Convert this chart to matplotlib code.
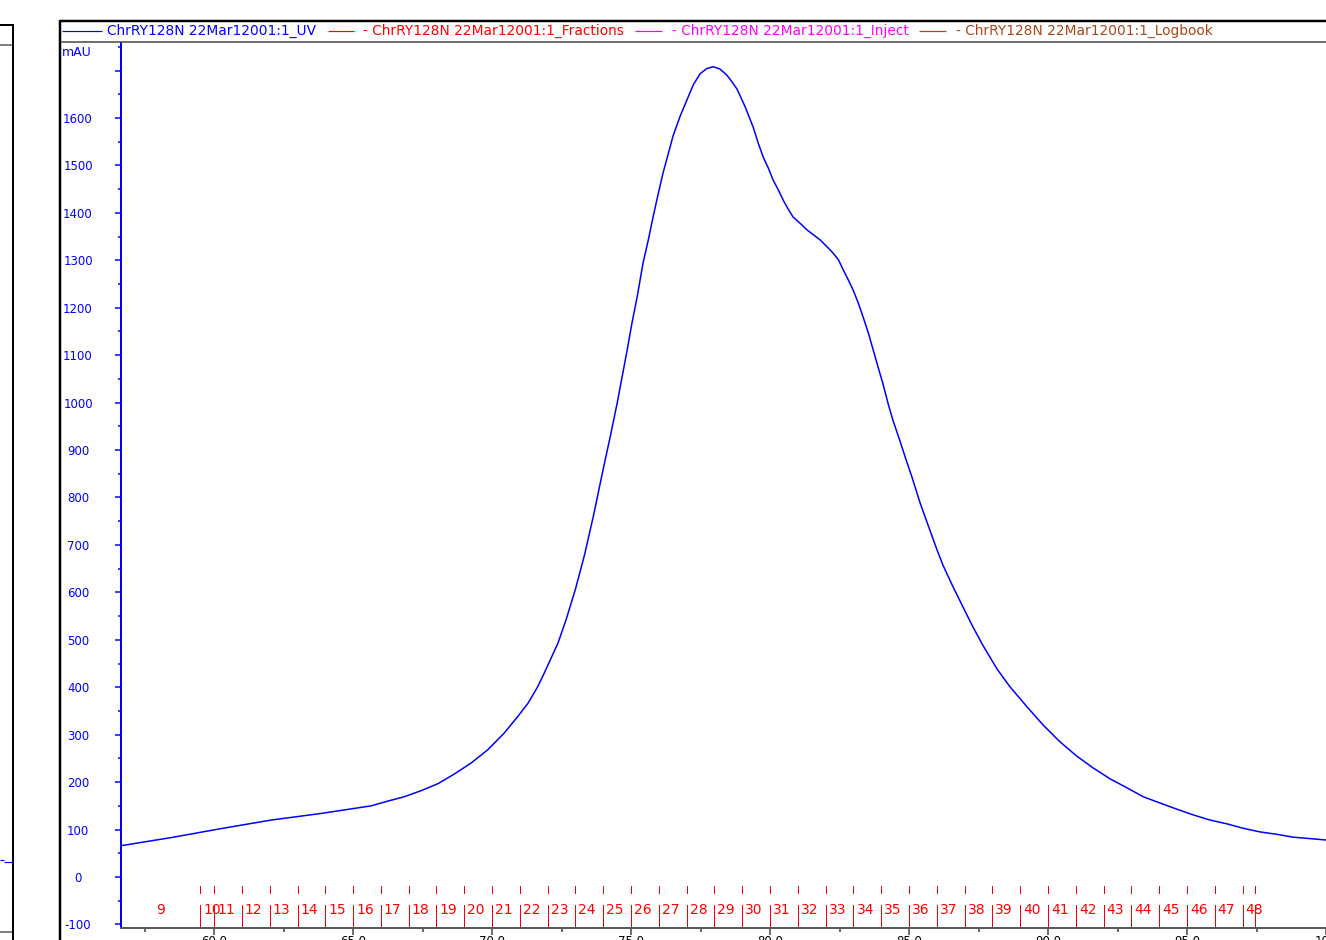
import matplotlib
matplotlib.use('Agg')
import matplotlib.pyplot as plt
from matplotlib.lines import Line2D
from matplotlib.ticker import MultipleLocator

# ---------------- data ----------------
uv_ml = [56.65, 58.45, 60.25, 62.05, 63.85, 65.65, 66.25, 66.83, 67.45, 68.06,
         68.64, 69.24, 69.84, 70.43, 70.92, 71.29, 71.64, 71.87, 72.12, 72.37,
         72.66, 73.00, 73.33, 73.66, 73.99, 74.25, 74.50, 74.86, 75.03, 75.22,
         75.43, 75.62, 75.79, 75.98, 76.15, 76.34, 76.51, 76.76, 77.01, 77.24,
         77.48, 77.72, 77.95, 78.20, 78.45, 78.62, 78.81, 79.10, 79.39, 79.58,
         79.75, 79.94, 80.11, 80.30, 80.47, 80.66, 80.83, 81.08, 81.33, 81.80,
         82.04, 82.27, 82.46, 82.63, 82.82, 82.99, 83.18, 83.35, 83.54, 83.71,
         83.90, 84.06, 84.26, 84.42, 84.68, 84.78, 84.93, 85.10, 85.40, 85.64,
         86.01, 86.23, 86.58, 86.95, 87.30, 87.67, 88.17, 88.63, 89.24, 89.83,
         90.43, 91.03, 91.62, 92.23, 92.84, 93.43, 94.03, 94.63, 95.22, 95.83,
         96.44, 97.00, 97.63, 98.23, 98.81, 99.42, 100.0]
uv_mau = [66, 83, 102, 120, 134, 150, 160, 169, 182, 197,
          217, 240, 268, 303, 338, 366, 401, 429, 461, 493,
          542, 607, 680, 765, 858, 928, 999, 1111, 1167, 1223,
          1294, 1343, 1391, 1441, 1484, 1525, 1562, 1603, 1638, 1670,
          1693, 1704, 1708, 1703, 1690, 1677, 1661, 1624, 1581, 1546,
          1518, 1494, 1469, 1448, 1427, 1407, 1391, 1378, 1364, 1343,
          1329, 1315, 1301, 1280, 1258, 1237, 1209, 1180, 1146, 1111,
          1072, 1040, 995, 963, 918, 900, 873, 844, 788, 749,
          689, 656, 612, 568, 527, 487, 438, 401, 359, 320,
          285, 255, 230, 207, 188, 169, 156, 143, 131, 120,
          112, 103, 95, 90, 84, 81, 78]

frac_names = ['9'] + [str(n) for n in range(10, 49)] + ['']
frac_starts = [55.0, 59.5] + [float(v) for v in range(60, 98)] + [97.43]

y_ticks = list(range(-100, 1701, 100))
y_labels = [str(v) for v in y_ticks[:-1]] + ['']
x_ticks = [60, 65, 70, 75, 80, 85, 90, 95, 100]
x_labels = ['60.0', '65.0', '70.0', '75.0', '80.0', '85.0', '90.0', '95.0', '100']

legend_items = ['ChrRY128N 22Mar12001:1_UV',
                '- ChrRY128N 22Mar12001:1_Fractions',
                '- ChrRY128N 22Mar12001:1_Inject',
                '- ChrRY128N 22Mar12001:1_Logbook']
legend_colors = ['#0000ff', '#ff0000', '#ff00ff', '#a8481c']

# ---------------- layout ----------------
W, H = 1326, 940
plt.rcParams['font.family'] = ['DejaVu Sans']
fig = plt.figure(figsize=(W / 100, H / 100), dpi=100)
fig.patch.set_facecolor('white')

def fx(px):
    return px / W

def fy(py):
    return 1 - py / H

PT = 72 / 100  # points per pixel

ax = fig.add_axes([fx(121), fy(928), fx(1326) - fx(121), fy(43) - fy(928)])
ax.set_xlim(56.65, 100.0)
ax.set_ylim(-107.5, 1758)
ax.set_facecolor('white')

for s in ['top', 'right']:
    ax.spines[s].set_visible(False)
ax.spines['left'].set_color('#0000ff')
ax.spines['left'].set_linewidth(2 * PT)
ax.spines['bottom'].set_color('#5a5a5a')
ax.spines['bottom'].set_linewidth(2 * PT)

# y axis
ax.set_yticks(y_ticks)
ax.set_yticklabels(y_labels)
ax.yaxis.set_minor_locator(MultipleLocator(50))
ax.tick_params(axis='y', which='major', direction='out', length=6 * PT, width=1.5 * PT,
               color='#0000ff', labelcolor='#0000ff', labelsize=8.5, pad=(43 - 6) * PT)
ax.tick_params(axis='y', which='minor', direction='out', length=3 * PT, width=1.5 * PT,
               color='#0000ff')
for t in ax.get_yticklabels():
    t.set_horizontalalignment('center')

# x axis
ax.set_xticks(x_ticks)
ax.set_xticklabels(x_labels)
ax.xaxis.set_minor_locator(MultipleLocator(2.5))
ax.tick_params(axis='x', which='major', direction='out', length=7 * PT, width=1.5 * PT,
               color='#404040', labelcolor='#000000', labelsize=8.5, pad=0)
ax.tick_params(axis='x', which='minor', direction='out', length=4 * PT, width=1.5 * PT,
               color='#404040')

# UV curve
ax.plot(uv_ml, uv_mau, color='#0000ff', lw=1.1, solid_joinstyle='round')

# fractions
trans = ax.get_xaxis_transform()
xmin = ax.get_xlim()[0]
for i, (name, start) in enumerate(zip(frac_names, frac_starts)):
    if start > xmin:
        ax.plot([start, start], [0.0395, 0.0475], transform=trans, color='#ff0000', lw=1.0 * PT)
        ax.plot([start, start], [0.0, 0.026], transform=trans, color='#ff0000', lw=1.0 * PT)
        if name:
            ax.annotate(name, xy=(start, 0.0203), xycoords=trans, xytext=(3 * PT, 0),
                        textcoords='offset points', ha='left', va='center',
                        color='#ff0000', fontsize=10)
    else:
        nxt = frac_starts[i + 1]
        ax.text((xmin + nxt) / 2, 0.0203, name, transform=trans, ha='center', va='center',
                color='#ff0000', fontsize=10)

# mAU label
fig.text(fx(62), fy(46), 'mAU', ha='left', va='top', color='#0000ff', fontsize=9)

# ---------------- frame decorations ----------------
def fline(x0, y0, x1, y1, color, lwpx):
    fig.add_artist(Line2D([fx(x0), fx(x1)], [fy(y0), fy(y1)], transform=fig.transFigure,
                          color=color, lw=lwpx * PT, solid_capstyle='butt'))

fline(60, 21, 1326, 21, '#000000', 2.5)
fline(60, 41.5, 1326, 41.5, '#444444', 1.5)
fline(60, 20, 60, 940, '#000000', 2.5)
# left neighbour panel
fline(0, 25, 14, 25, '#000000', 2)
fline(0, 45, 14, 45, '#555555', 1.5)
fline(13, 24, 13, 940, '#000000', 2)
fline(0, 860, 4, 860, '#0000ff', 1.2)
fline(4, 862, 12, 862, '#0000ff', 1.2)
fline(0, 932, 12, 932, '#555555', 1.5)

# legend strip
leg_line_x = [(62, 102), (328, 354), (635, 662), (919, 946)]
leg_text_x = [107, 363, 672, 956]
for (x0, x1), tx, label, col in zip(leg_line_x, leg_text_x, legend_items, legend_colors):
    fline(x0, 31, x1, 31, col, 1.2)
    fig.text(fx(tx), fy(31), label, ha='left', va='center', color=col, fontsize=9.9)

fig.savefig('out.png', dpi=100, facecolor='white')
